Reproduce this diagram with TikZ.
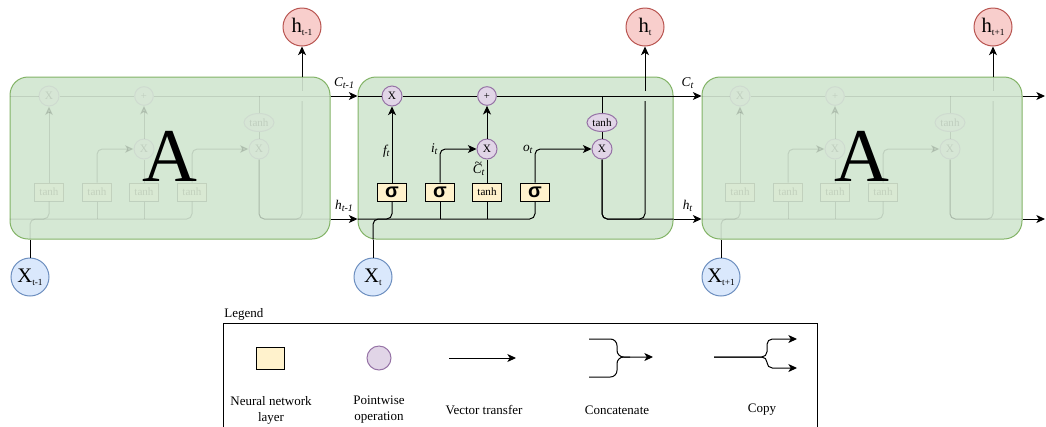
\documentclass[tikz,border=0pt]{standalone}
\usepackage{fontspec}
\setmainfont{Liberation Serif}
\newfontfamily\sigfont{Liberation Sans}
\usetikzlibrary{arrows.meta, positioning, shapes.geometric, calc}
\definecolor{cellfill}{HTML}{D5E8D4}
\definecolor{cellline}{HTML}{82B366}
\definecolor{gatefill}{HTML}{FFF2CC}
\definecolor{opfill}{HTML}{E1D5E7}
\definecolor{opline}{HTML}{9673A6}
\definecolor{outfill}{HTML}{F8CECC}
\definecolor{outdraw}{HTML}{B85450}
\definecolor{infill}{HTML}{DAE8FC}
\definecolor{indraw}{HTML}{6C8EBF}
\newcommand{\isub}[1]{\raisebox{-0.3ex}{\fontsize{7.5}{8}\selectfont\itshape #1}}
\newcommand{\usub}[1]{\raisebox{-0.35ex}{\fontsize{7}{8}\selectfont #1}}
\newcommand{\sigmark}{{\sigfont\bfseries\fontsize{15}{15}\selectfont σ}}
\newcommand{\tanhmark}{{\fontsize{8.3}{8.3}\selectfont tanh}}
\newcommand{\ctil}{\ooalign{\textit{C}\cr\hidewidth\kern0.15em\raisebox{0.52em}{\textasciitilde}\hidewidth\cr}}
\tikzset{
    cellbox/.style={rectangle, draw=cellline, fill=cellfill, rounded corners=13.5pt, minimum height=121.5pt, inner sep=0pt},
    bigA/.style={inner sep=0pt, font=\fontsize{57}{57}\selectfont},
    gate/.style={rectangle, draw, fill=gatefill, minimum width=21.75pt, minimum height=13.5pt, inner sep=0pt},
    pwop/.style={circle, draw=opline, fill=opfill, minimum size=15pt, inner sep=0pt, font=\fontsize{8.5}{8.5}\selectfont},
    pwell/.style={ellipse, draw=opline, fill=opfill, minimum width=22.5pt, minimum height=13.5pt, inner sep=0pt, font=\fontsize{8.3}{8.3}\selectfont},
    outnode/.style={circle, draw=outdraw, fill=outfill, minimum size=28.5pt, inner sep=0pt, font=\fontsize{15.5}{16}\selectfont},
    innode/.style={circle, draw=indraw, fill=infill, minimum size=28.5pt, inner sep=0pt, font=\fontsize{15.5}{16}\selectfont},
    lbl/.style={inner sep=1.5pt, font=\fontsize{10}{10}\selectfont\itshape},
    lgtext/.style={align=center, font=\fontsize{9.75}{12}\selectfont},
    lgframe/.style={rectangle, draw, minimum width=445.5pt, minimum height=91.5pt}
}
\begin{document}
\begin{tikzpicture}[x=0.75pt, y=-0.75pt, line width=0.75pt, >={Stealth[length=6.5pt, width=6pt, inset=1.8pt]}]
\useasboundingbox (0,0) rectangle (1046,426);
\node[cellbox, minimum width=240pt] (cL) at (170,158) {};
\node[cellbox, minimum width=236.25pt] (cM) at (515.5,158) {};
\node[cellbox, minimum width=240pt] (cR) at (862,158) {};
\node[innode] (xL) at (30,277) {X\usub{t-1}};
\node[innode] (xM) at (373,277) {X\usub{t}};
\node[innode] (xR) at (721,277) {X\usub{t+1}};
\node[outnode] (hL) at (302,27) {h\usub{t-1}};
\node[outnode] (hM) at (645,27) {h\usub{t}};
\node[outnode] (hR) at (993,27) {h\usub{t+1}};
\coordinate (crow) at (0,96);
\coordinate (hrow) at (0,219);
\coordinate (hopup) at (0,91);
\coordinate (hopdn) at (0,101);
\foreach \cl/\dx/\op/\gl in {L/-343/0.1/\tanhmark, M/0/1/\sigmark, R/348/0.1/\tanhmark}{
  \begin{scope}[shift={(\dx,0)}, opacity=\op]
    \node[pwop] (\cl fx) at (392,96) {X};
    \node[pwop, minimum size=14pt, font=\fontsize{8}{8}\selectfont] (\cl add) at (487,96) {+};
    \node[pwop] (\cl ix) at (487,149) {X};
    \node[pwop] (\cl ox) at (602,149) {X};
    \node[pwell] (\cl th) at (602,122.5) {tanh};
    \node[gate] (\cl b1) at (392,192) {\gl};
    \node[gate] (\cl b2) at (440,192) {\gl};
    \node[gate] (\cl b3) at (487,192) {\tanhmark};
    \node[gate] (\cl b4) at (535,192) {\gl};
    \draw (c\cl.west |- \cl fx) -- (\cl fx);
    \draw (\cl fx) -- (\cl add);
    \draw (\cl add) -- (c\cl.east |- \cl add);
    \draw (\cl th |- \cl add) -- (\cl th);
    \draw (\cl th) -- (\cl ox);
    \draw[->] (\cl b1) -- (\cl fx);
    \draw[->, rounded corners=4pt] (\cl b2) |- (\cl ix);
    \draw (\cl b3) -- (\cl ix);
    \draw[->] (\cl ix) -- (\cl add);
    \draw[->, rounded corners=4pt] (\cl b4) |- (\cl ox);
    \draw[rounded corners=4pt] (c\cl.west |- hrow) -| (\cl b4);
    \draw (\cl b2) -- (\cl b2 |- hrow);
    \draw (\cl b3) -- (\cl b3 |- hrow);
    \draw[rounded corners=4pt] (x\cl |- c\cl.south) |- (\cl b1 |- hrow) -- (\cl b1);
    \draw[rounded corners=4pt] (\cl ox) |- (c\cl.east |- hrow);
    \draw[rounded corners=4pt] (\cl ox) |- (h\cl |- hrow) -- (h\cl |- hopdn);
    \draw (h\cl |- hopup) -- (h\cl |- c\cl.north);
  \end{scope}
}
\node[bigA] (aL) at ([yshift=1.5pt]cL.center) {A};
\node[bigA] (aR) at ([yshift=1.5pt]cR.center) {A};
\foreach \a/\b in {L/M, M/R}{
  \draw[->] (c\a.east |- crow) -- (c\b.west |- crow);
  \draw[->] (c\a.east |- hrow) -- (c\b.west |- hrow);
}
\coordinate (cend) at (1045,96);
\coordinate (hend) at (1045,219);
\draw[->] (cR.east |- crow) -- (cend);
\draw[->] (cR.east |- hrow) -- (hend);
\foreach \cl in {L, M, R}{
  \draw (x\cl) -- (x\cl |- c\cl.south);
  \draw[->] (h\cl |- c\cl.north) -- (h\cl);
}
\node[lbl, left] (lft) at ($(Mb1)!0.42!(Mfx)$) {f\isub{t}};
\node[lbl, left] (lit) at (Mb2 |- Mix) {i\isub{t}};
\node[lbl, left] (lct) at ($(Mb3)!0.5!(Mix)$) {\ctil\isub{t}};
\node[lbl, left] (lot) at (Mb4 |- Mox) {o\isub{t}};
\node[lbl, above=4pt] (lcp) at ($(cL.east |- crow)!0.5!(cM.west |- crow)$) {C\isub{t-1}};
\node[lbl, above=4pt] (lhp) at ($(cL.east |- hrow)!0.5!(cM.west |- hrow)$) {h\isub{t-1}};
\node[lbl, above=4pt] (lcc) at ($(cM.east |- crow)!0.5!(cR.west |- crow)$) {C\isub{t}};
\node[lbl, above=4pt] (lhc) at ($(cM.east |- hrow)!0.5!(cR.west |- hrow)$) {h\isub{t}};
\node[lgframe] (lgbox) at (520,384) {};
\node[lgtext, anchor=south west, inner sep=1pt] (lgtitle) at (lgbox.north west) {Legend};
\node[gate, minimum width=21pt, minimum height=16pt] (lgsq) at (270,358.5) {};
\node[pwop, minimum size=18pt] (lgop) at (379,358) {};
\coordinate (vt0) at (449,358);
\coordinate (vt1) at (516,358);
\draw[->] (vt0) -- (vt1);
\coordinate (cc1) at (589,339);
\coordinate (cc2) at (589,377);
\coordinate (ccj) at (617,357);
\coordinate (ccm) at (630,357);
\coordinate (cc3) at (653,357);
\draw[->, rounded corners=5pt] (cc1) -| (ccj) -- (cc3);
\draw[rounded corners=5pt] (cc2) -| (ccj) -- (ccm);
\coordinate (cp0) at (714,357);
\coordinate (cpj) at (767,357);
\coordinate (cpu) at (797,339);
\coordinate (cpd) at (797,368);
\draw[->, rounded corners=4pt] (cp0) -- (cpj) |- (cpu);
\draw[->, rounded corners=4pt] (cp0) -- (cpj) |- (cpd);
\node[lgtext] (lgnn) at (271,410) {Neural network\\layer};
\node[lgtext] (lgpw) at (379,410) {Pointwise\\operation};
\node[lgtext] (lgvt) at (484,410) {Vector transfer};
\node[lgtext] (lgcc) at (617,410) {Concatenate};
\node[lgtext] (lgcp) at (762,410) {Copy};
\end{tikzpicture}
\end{document}
